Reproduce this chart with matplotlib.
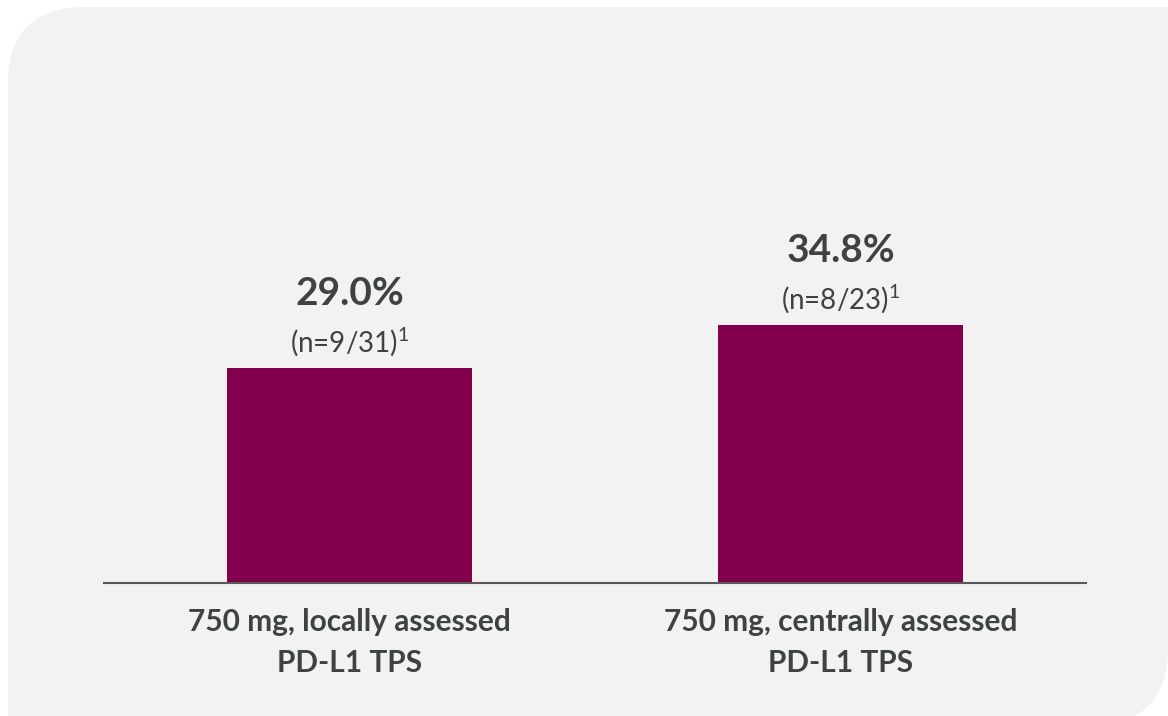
import numpy as np
import matplotlib
matplotlib.use('Agg')
import matplotlib.pyplot as plt
from matplotlib.patches import FancyBboxPatch, Rectangle

plt.rcParams['font.family'] = ['Lato', 'DejaVu Sans']
plt.rcParams['mathtext.fontset'] = 'custom'
plt.rcParams['mathtext.rm'] = 'Lato'
plt.rcParams['mathtext.it'] = 'Lato:italic'
plt.rcParams['mathtext.bf'] = 'Lato:bold'

categories = ['750 mg, locally assessed\nPD-L1 TPS', '750 mg, centrally assessed\nPD-L1 TPS']
rates = [29.0, 34.8]
responders = [9, 8]
totals = [31, 23]

barcol = '#83004C'
txtcol = '#3E4242'
W, H = 1168, 716

fig = plt.figure(figsize=(W / 100, H / 100), dpi=100)
fig.patch.set_facecolor('white')

# grey card behind the chart, rounded top-left and bottom-right
bg = fig.add_axes([0, 0, 1, 1], zorder=0)
bg.set_xlim(0, W)
bg.set_ylim(H, 0)
bg.axis('off')
r = 77
card = '#F2F2F2'
bg.add_patch(FancyBboxPatch((8 + r, 7 + r), W - 8 - 2 * r, 725 - 7 - 2 * r,
                            boxstyle='round,pad=%d' % r, fc=card, ec='none'))
bg.add_patch(Rectangle((W - 2 * r, 7), 2 * r + 5, 2 * r, fc=card, ec='none'))
bg.add_patch(Rectangle((8, 725 - 2 * r), 2 * r, 2 * r, fc=card, ec='none'))

ax = fig.add_axes([104 / W, 133 / H, 982 / W, 444.6 / H], zorder=1)
ax.patch.set_alpha(0)
x = np.arange(len(categories))
ax.bar(x, rates, width=0.5, color=barcol, zorder=2)
ax.set_xlim(-0.5, 1.5)
ax.set_ylim(0, 60)

for s in ['top', 'right', 'left']:
    ax.spines[s].set_visible(False)
ax.spines['bottom'].set_color('#595959')
ax.spines['bottom'].set_linewidth(1.5)
ax.set_yticks([])
ax.set_xticks(x)
ax.set_xticklabels(categories, fontsize=21.5, fontweight='bold', color=txtcol, linespacing=1.58)
ax.tick_params(axis='x', length=0, pad=18)

for xi, v, n, t in zip(x, rates, responders, totals):
    ax.annotate('%.1f%%' % v, (xi, v), xytext=(0, 54), textcoords='offset points',
                ha='center', va='center', fontsize=28, fontweight='bold', color=txtcol)
    ax.annotate('(n=%d/%d)$^{1}$' % (n, t), (xi, v), xytext=(0, 19), textcoords='offset points',
                ha='center', va='center', fontsize=20, color=txtcol)

fig.savefig('out.png', dpi=100)
